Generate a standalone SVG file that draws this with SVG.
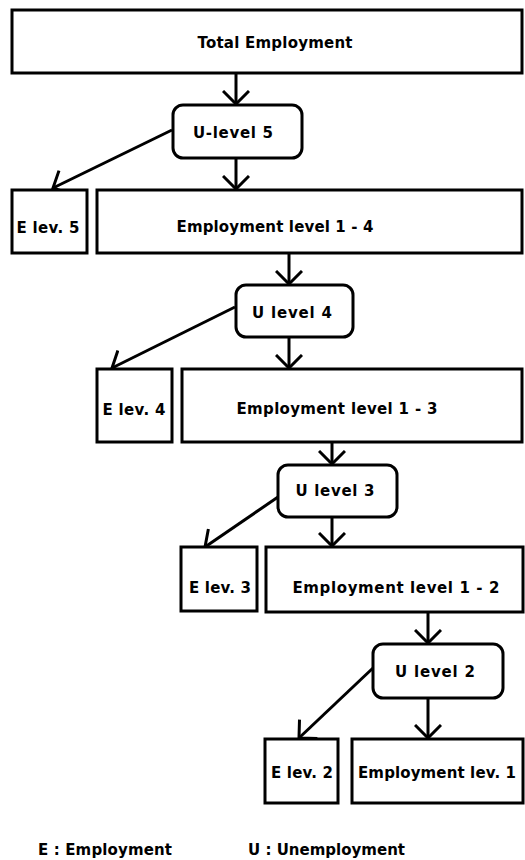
<svg xmlns="http://www.w3.org/2000/svg" width="525" height="860" viewBox="0 0 525 860">
<style>
.box{fill:#fff;stroke:#000;stroke-width:3}
.t{font-family:"DejaVu Sans","Liberation Sans",sans-serif;font-weight:bold;font-size:15px;text-anchor:middle;fill:#000}
.lg{font-family:"DejaVu Sans","Liberation Sans",sans-serif;font-weight:bold;font-size:15px;fill:#000}
.c{stroke:#000;stroke-width:3;fill:none;marker-end:url(#ah)}
</style>
<defs>
<marker id="ah" markerUnits="userSpaceOnUse" viewBox="0 0 16 28" refX="14" refY="14" markerWidth="16" markerHeight="28" orient="auto">
<path d="M1,1 L14,14 L1,27" fill="none" stroke="#000" stroke-width="3"/>
</marker>
</defs>
<rect width="525" height="860" fill="#fff"/>
<g id="connectors">
<line class="c" x1="236" y1="73" x2="236" y2="104"/>
<line class="c" x1="236" y1="158" x2="236" y2="189"/>
<line class="c" x1="172" y1="130" x2="53" y2="188"/>
<line class="c" x1="289" y1="253" x2="289" y2="284"/>
<line class="c" x1="289" y1="337" x2="289" y2="368"/>
<line class="c" x1="235" y1="307" x2="112" y2="368"/>
<line class="c" x1="332" y1="442" x2="332" y2="464"/>
<line class="c" x1="332" y1="517" x2="332" y2="546"/>
<line class="c" x1="278" y1="497" x2="205" y2="547"/>
<line class="c" x1="428" y1="612" x2="428" y2="643"/>
<line class="c" x1="428" y1="698" x2="428" y2="738"/>
<line class="c" x1="373" y1="668" x2="299" y2="738"/>
</g>
<g id="total"><rect class="box" x="12" y="10" width="510" height="63"/><text class="t" x="275" y="48" textLength="155">Total Employment</text></g>
<g id="u5"><rect class="box" x="173" y="105" width="129" height="53" rx="10"/><text class="t" x="233" y="138" textLength="80">U-level  5</text></g>
<g id="e5"><rect class="box" x="12" y="190" width="75" height="63"/><text class="t" x="48" y="233" textLength="63">E lev. 5</text></g>
<g id="emp14"><rect class="box" x="97" y="190" width="425" height="63"/><text class="t" x="275" y="232" textLength="197">Employment level  1 - 4</text></g>
<g id="u4"><rect class="box" x="236" y="285" width="117" height="52" rx="10"/><text class="t" x="292" y="318" textLength="80">U level  4</text></g>
<g id="e4"><rect class="box" x="97" y="369" width="75" height="73"/><text class="t" x="134" y="415" textLength="63">E lev. 4</text></g>
<g id="emp13"><rect class="box" x="182" y="369" width="340" height="73"/><text class="t" x="337" y="414" textLength="201">Employment level 1 - 3</text></g>
<g id="u3"><rect class="box" x="278" y="465" width="119" height="52" rx="10"/><text class="t" x="335" y="496" textLength="79">U level  3</text></g>
<g id="e3"><rect class="box" x="181" y="547" width="76" height="64"/><text class="t" x="220" y="593" textLength="62">E lev. 3</text></g>
<g id="emp12"><rect class="box" x="266" y="547" width="257" height="65"/><text class="t" x="396" y="593" textLength="207">Employment level  1 - 2</text></g>
<g id="u2"><rect class="box" x="373" y="644" width="130" height="54" rx="10"/><text class="t" x="435" y="677" textLength="80">U level  2</text></g>
<g id="e2"><rect class="box" x="265" y="739" width="73" height="64"/><text class="t" x="302" y="778" textLength="62">E lev. 2</text></g>
<g id="emp1"><rect class="box" x="352" y="739" width="171" height="64"/><text class="t" x="437" y="778" textLength="158">Employment lev. 1</text></g>
<g id="legend">
<text class="lg" x="38" y="855" textLength="134">E : Employment</text>
<text class="lg" x="248" y="855" textLength="157">U : Unemployment</text>
</g>
</svg>
